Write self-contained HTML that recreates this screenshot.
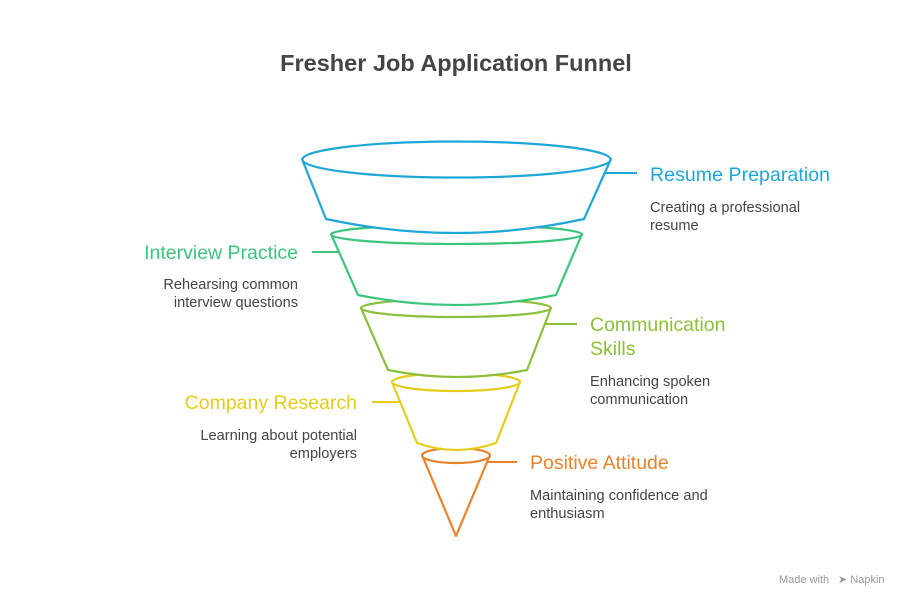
<!DOCTYPE html>
<html><head><style>
body{margin:0;background:#fff;}
svg{display:block;font-family:"Liberation Sans",Arial,sans-serif;}
</style></head><body>
<svg width="912" height="606" viewBox="0 0 912 606" xmlns="http://www.w3.org/2000/svg">
<rect width="912" height="606" fill="#fff"/>
<text x="456" y="71" text-anchor="middle" font-size="23.5" font-weight="bold" fill="#444">Fresher Job Application Funnel</text>
<g fill="#fff" stroke-width="2.2" stroke-linejoin="round">
<path d="M422,455 L456,536 L490,455" stroke="#e8832c" fill="none"/>
<ellipse cx="456" cy="455.5" rx="34" ry="7.5" stroke="#e8832c"/>
<path d="M392,382 L417,443 Q456,457 496,443 L520,382 Z" stroke="#e3cc1a"/>
<ellipse cx="456" cy="382" rx="64" ry="9" stroke="#e3cc1a"/>
<path d="M361,308 L388,370 Q456,384 527,370 L551,308 Z" stroke="#8cbf3a"/>
<ellipse cx="456" cy="308" rx="95" ry="9" stroke="#8cbf3a"/>
<path d="M331,234 L358,295 Q456,315 556,295 L582,234 Z" stroke="#3cc47c"/>
<ellipse cx="456.5" cy="234.5" rx="125.5" ry="9.5" stroke="#3cc47c"/>
<path d="M302,159 L326,219 Q456,247 584,219 L611,159 Z" stroke="#1fa7d8"/>
<ellipse cx="456.5" cy="159.5" rx="154" ry="18" stroke="#1fa7d8"/>
</g>
<g stroke-width="2">
<line x1="605" y1="173" x2="637" y2="173" stroke="#1fa7d8"/>
<line x1="312" y1="252" x2="340" y2="252" stroke="#3cc47c"/>
<line x1="544" y1="324" x2="577" y2="324" stroke="#8cbf3a"/>
<line x1="372" y1="402" x2="401" y2="402" stroke="#e3cc1a"/>
<line x1="487" y1="462" x2="517" y2="462" stroke="#e8832c"/>
</g>
<g font-size="19.5">
<text x="650" y="181" fill="#1fa7d8" textLength="180">Resume Preparation</text>
<text x="298" y="259" text-anchor="end" fill="#3cc47c">Interview Practice</text>
<text x="590" y="331" fill="#8cbf3a">Communication</text>
<text x="590" y="355" fill="#8cbf3a">Skills</text>
<text x="357" y="409" text-anchor="end" fill="#e3cc1a">Company Research</text>
<text x="530" y="469" fill="#e8832c">Positive Attitude</text>
</g>
<g font-size="14.6" fill="#444">
<text x="650" y="212">Creating a professional</text>
<text x="650" y="230">resume</text>
<text x="298" y="289" text-anchor="end">Rehearsing common</text>
<text x="298" y="307" text-anchor="end">interview questions</text>
<text x="590" y="386">Enhancing spoken</text>
<text x="590" y="404">communication</text>
<text x="357" y="440" text-anchor="end">Learning about potential</text>
<text x="357" y="458" text-anchor="end">employers</text>
<text x="530" y="500">Maintaining confidence and</text>
<text x="530" y="518">enthusiasm</text>
</g>
<text x="779" y="583" font-size="11" fill="#999">Made with</text>
<text x="838" y="583" font-size="11" fill="#999">➤ Napkin</text>
</svg>
</body></html>
